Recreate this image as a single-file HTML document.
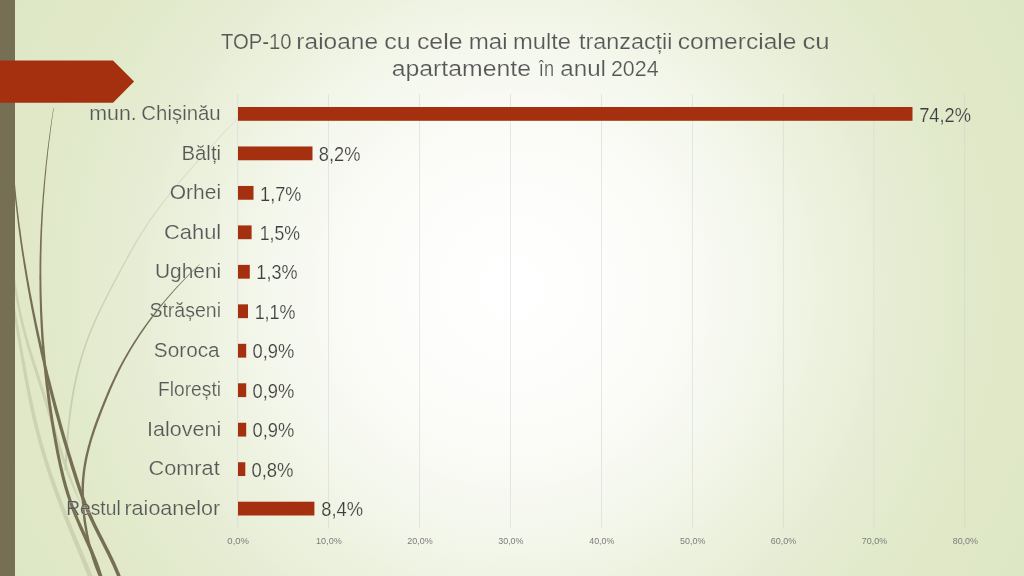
<!DOCTYPE html>
<html lang="ro">
<head>
<meta charset="utf-8">
<title>TOP-10 raioane cu cele mai multe tranzacții comerciale cu apartamente în anul 2024</title>
<style>
html,body{margin:0;padding:0;width:1024px;height:576px;overflow:hidden;background:#DEE7C5}
svg{display:block;position:absolute;left:0;top:0}
text{font-family:"Liberation Sans",sans-serif;white-space:pre}
</style>
</head>
<body>
<svg width="1024" height="576" viewBox="0 0 1024 576">
<defs>
<radialGradient id="bg" gradientUnits="userSpaceOnUse" cx="512" cy="288" r="587.4">
<stop offset="0.0000" stop-color="#FFFFFF"/>
<stop offset="0.1021" stop-color="#FEFEFD"/>
<stop offset="0.1532" stop-color="#FDFEFC"/>
<stop offset="0.2315" stop-color="#FCFDF9"/>
<stop offset="0.2894" stop-color="#FAFBF6"/>
<stop offset="0.3490" stop-color="#F7F9F1"/>
<stop offset="0.3984" stop-color="#F5F8EE"/>
<stop offset="0.4222" stop-color="#F4F7EB"/>
<stop offset="0.4818" stop-color="#F0F4E5"/>
<stop offset="0.5380" stop-color="#EDF2DF"/>
<stop offset="0.5975" stop-color="#E9EFD9"/>
<stop offset="0.6469" stop-color="#E7EDD4"/>
<stop offset="0.7184" stop-color="#E4EBCF"/>
<stop offset="0.7576" stop-color="#E2EACC"/>
<stop offset="0.8444" stop-color="#E0E8C8"/>
<stop offset="1.0000" stop-color="#DEE7C5"/>
</radialGradient>
<linearGradient id="cg" gradientUnits="userSpaceOnUse" x1="0" y1="118" x2="0" y2="470"><stop offset="0" stop-color="#DBE0CA"/><stop offset="0.5" stop-color="#CBD0B6"/><stop offset="1" stop-color="#C8CDB0"/></linearGradient>
</defs>
<rect width="1024" height="576" fill="url(#bg)"/>
<g id="wisps">
<path d="M10.9,299.2 L11.4,302.2 L12.0,305.2 L12.5,308.2 L13.0,311.2 L13.5,314.2 L14.0,317.2 L14.5,320.2 L15.1,323.2 L15.6,326.2 L16.1,329.2 L16.6,332.2 L17.1,335.2 L17.6,338.2 L18.1,341.3 L18.6,344.3 L19.1,347.3 L19.6,350.3 L20.1,353.3 L20.6,356.3 L21.1,359.3 L21.6,362.3 L22.1,365.3 L22.6,368.3 L23.2,371.3 L23.7,374.3 L24.2,377.3 L24.8,380.3 L25.3,383.3 L25.9,386.3 L26.5,389.3 L27.1,392.3 L27.6,395.3 L28.2,398.3 L28.9,401.4 L29.5,404.4 L30.1,407.4 L30.8,410.4 L31.4,413.4 L32.1,416.4 L32.8,419.4 L33.5,422.4 L34.2,425.4 L35.0,428.4 L35.7,431.4 L36.5,434.4 L37.3,437.5 L38.1,440.5 L38.9,443.5 L39.7,446.5 L40.6,449.5 L41.5,452.5 L42.3,455.5 L43.2,458.5 L44.2,461.6 L45.1,464.6 L46.1,467.6 L47.0,470.6 L48.0,473.6 L49.0,476.6 L50.0,479.6 L51.1,482.6 L52.1,485.6 L53.2,488.7 L54.3,491.7 L55.3,494.7 L56.4,497.7 L57.5,500.7 L58.7,503.7 L59.8,506.7 L60.9,509.7 L62.1,512.7 L63.2,515.7 L64.4,518.8 L65.6,521.8 L66.8,524.8 L68.0,527.8 L69.2,530.8 L70.4,533.8 L71.6,536.8 L72.9,539.8 L74.1,542.8 L75.4,545.8 L76.6,548.8 L77.9,551.8 L79.1,554.8 L80.4,557.8 L81.6,560.8 L82.8,563.8 L84.0,566.8 L85.2,569.8 L86.4,572.8 L87.6,575.8 L88.8,578.8 L89.9,581.8 L91.0,584.8 L95.2,583.2 L94.1,580.2 L93.0,577.2 L91.8,574.2 L90.6,571.2 L89.4,568.2 L88.2,565.2 L86.9,562.2 L85.7,559.2 L84.4,556.2 L83.1,553.2 L81.9,550.2 L80.6,547.2 L79.3,544.2 L78.1,541.2 L76.8,538.2 L75.6,535.2 L74.3,532.2 L73.1,529.2 L71.9,526.2 L70.6,523.2 L69.4,520.2 L68.2,517.2 L67.0,514.3 L65.9,511.3 L64.7,508.3 L63.5,505.3 L62.4,502.3 L61.2,499.3 L60.1,496.3 L59.0,493.3 L57.9,490.3 L56.8,487.3 L55.8,484.4 L54.7,481.4 L53.7,478.4 L52.6,475.4 L51.6,472.4 L50.6,469.4 L49.6,466.4 L48.7,463.4 L47.7,460.4 L46.8,457.5 L45.9,454.5 L45.0,451.5 L44.1,448.5 L43.2,445.5 L42.4,442.5 L41.5,439.5 L40.7,436.5 L39.9,433.6 L39.2,430.6 L38.4,427.6 L37.7,424.6 L36.9,421.6 L36.2,418.6 L35.5,415.6 L34.9,412.6 L34.2,409.6 L33.5,406.6 L32.9,403.6 L32.3,400.6 L31.6,397.7 L31.0,394.7 L30.4,391.7 L29.8,388.7 L29.2,385.7 L28.6,382.7 L28.1,379.7 L27.5,376.7 L26.9,373.7 L26.4,370.7 L25.8,367.7 L25.3,364.7 L24.7,361.7 L24.2,358.7 L23.7,355.7 L23.1,352.7 L22.6,349.7 L22.0,346.7 L21.5,343.7 L21.0,340.7 L20.4,337.8 L19.9,334.8 L19.4,331.8 L18.8,328.8 L18.3,325.8 L17.7,322.8 L17.2,319.8 L16.6,316.8 L16.1,313.8 L15.5,310.8 L14.9,307.8 L14.3,304.8 L13.7,301.8 L13.1,298.8Z" fill="#CDD2B1"/>
<path d="M11.3,265.1 L11.6,268.1 L11.9,271.1 L12.3,274.1 L12.7,277.1 L13.1,280.2 L13.5,283.2 L13.9,286.2 L14.4,289.2 L14.9,292.2 L15.4,295.2 L15.9,298.2 L16.4,301.2 L17.0,304.2 L17.6,307.2 L18.2,310.3 L18.8,313.3 L19.5,316.3 L20.1,319.3 L20.8,322.3 L21.5,325.3 L22.3,328.3 L23.0,331.3 L23.8,334.3 L24.6,337.3 L25.4,340.4 L26.2,343.4 L27.1,346.4 L28.0,349.4 L28.9,352.4 L29.8,355.4 L30.7,358.4 L31.7,361.4 L32.6,364.4 L33.6,367.4 L34.5,370.4 L35.5,373.4 L36.4,376.4 L37.4,379.4 L38.3,382.4 L39.3,385.4 L40.2,388.4 L41.2,391.4 L42.1,394.4 L43.1,397.4 L44.0,400.4 L44.9,403.4 L45.8,406.4 L46.7,409.4 L47.6,412.4 L48.5,415.4 L49.4,418.4 L50.3,421.4 L51.2,424.4 L52.1,427.4 L52.9,430.4 L53.8,433.4 L54.7,436.4 L55.6,439.4 L56.5,442.4 L57.5,445.4 L58.4,448.4 L59.4,451.4 L60.3,454.4 L61.3,457.4 L62.3,460.4 L63.4,463.4 L64.4,466.4 L65.5,469.4 L66.6,472.4 L67.7,475.5 L68.9,478.4 L70.1,481.4 L71.4,484.4 L72.7,487.4 L74.0,490.3 L75.4,493.3 L76.9,496.2 L78.4,499.2 L80.0,502.1 L80.3,501.9 L79.1,498.8 L77.9,495.8 L76.8,492.7 L75.6,489.7 L74.4,486.6 L73.3,483.6 L72.2,480.6 L71.2,477.6 L70.1,474.5 L69.0,471.6 L68.0,468.6 L67.0,465.6 L66.0,462.6 L65.0,459.6 L64.0,456.6 L63.1,453.6 L62.1,450.6 L61.2,447.6 L60.3,444.6 L59.4,441.6 L58.5,438.6 L57.6,435.6 L56.7,432.6 L55.8,429.6 L54.9,426.6 L54.0,423.6 L53.2,420.6 L52.3,417.6 L51.4,414.6 L50.5,411.6 L49.6,408.6 L48.7,405.6 L47.8,402.6 L46.8,399.6 L45.9,396.6 L45.0,393.6 L44.0,390.6 L43.1,387.6 L42.1,384.6 L41.1,381.6 L40.2,378.6 L39.2,375.6 L38.2,372.6 L37.3,369.6 L36.3,366.6 L35.3,363.6 L34.4,360.6 L33.4,357.6 L32.5,354.6 L31.5,351.6 L30.6,348.6 L29.7,345.6 L28.8,342.6 L28.0,339.6 L27.1,336.7 L26.3,333.7 L25.5,330.7 L24.8,327.7 L24.0,324.7 L23.3,321.7 L22.6,318.7 L21.9,315.7 L21.2,312.7 L20.6,309.7 L20.0,306.8 L19.4,303.8 L18.8,300.8 L18.2,297.8 L17.7,294.8 L17.1,291.8 L16.6,288.8 L16.1,285.8 L15.7,282.8 L15.2,279.8 L14.8,276.9 L14.4,273.9 L14.0,270.9 L13.6,267.9 L13.2,264.9Z" fill="#CDD2B1"/>
<path d="M237.7,117.8 L234.8,120.8 L231.9,123.8 L229.1,126.8 L226.2,129.7 L223.4,132.7 L220.5,135.7 L217.7,138.7 L214.9,141.7 L212.1,144.7 L209.4,147.7 L206.6,150.7 L203.9,153.7 L201.1,156.7 L198.4,159.7 L195.7,162.7 L193.1,165.7 L190.4,168.7 L187.8,171.7 L185.2,174.7 L182.6,177.7 L180.1,180.7 L177.6,183.7 L175.1,186.7 L172.6,189.7 L170.2,192.7 L167.7,195.7 L165.4,198.7 L163.0,201.7 L160.7,204.7 L158.5,207.7 L156.3,210.7 L154.1,213.7 L151.9,216.7 L149.8,219.7 L147.8,222.7 L145.7,225.7 L143.7,228.7 L141.8,231.7 L139.9,234.7 L138.1,237.7 L136.3,240.7 L134.5,243.7 L132.8,246.7 L131.1,249.7 L129.4,252.7 L127.7,255.7 L126.1,258.7 L124.5,261.7 L122.9,264.7 L121.3,267.7 L119.6,270.7 L118.0,273.7 L116.4,276.7 L114.8,279.7 L113.2,282.7 L111.6,285.7 L110.1,288.7 L108.5,291.7 L106.9,294.7 L105.4,297.7 L103.9,300.7 L102.4,303.7 L100.9,306.7 L99.5,309.7 L98.0,312.7 L96.6,315.7 L95.2,318.7 L93.9,321.7 L92.6,324.7 L91.3,327.7 L90.1,330.7 L88.9,333.7 L87.7,336.7 L86.6,339.7 L85.5,342.7 L84.4,345.7 L83.4,348.8 L82.4,351.8 L81.5,354.8 L80.6,357.8 L79.7,360.8 L78.8,363.8 L78.0,366.8 L77.3,369.8 L76.5,372.8 L75.8,375.8 L75.1,378.8 L74.5,381.8 L73.8,384.8 L73.2,387.8 L72.7,390.8 L72.1,393.8 L71.6,396.9 L71.1,399.9 L70.6,402.9 L70.2,405.9 L69.8,408.9 L69.3,411.9 L69.0,414.9 L68.6,417.9 L68.2,420.9 L67.9,423.9 L67.6,426.9 L67.3,429.9 L67.0,432.9 L66.7,435.9 L66.5,438.9 L66.2,441.9 L66.0,444.9 L65.8,447.9 L65.6,450.9 L65.4,453.9 L65.2,456.9 L65.0,459.9 L64.8,462.9 L64.7,465.9 L64.5,468.9 L64.5,470.0 L66.4,470.0 L66.4,469.1 L66.6,466.1 L66.7,463.1 L66.9,460.1 L67.1,457.1 L67.3,454.1 L67.5,451.1 L67.7,448.1 L67.9,445.1 L68.1,442.1 L68.4,439.1 L68.6,436.1 L68.9,433.1 L69.1,430.1 L69.4,427.1 L69.7,424.1 L70.1,421.1 L70.4,418.1 L70.8,415.1 L71.1,412.1 L71.5,409.1 L72.0,406.1 L72.4,403.1 L72.9,400.1 L73.4,397.1 L73.9,394.2 L74.4,391.2 L75.0,388.2 L75.5,385.2 L76.2,382.2 L76.8,379.2 L77.5,376.2 L78.2,373.2 L78.9,370.2 L79.7,367.2 L80.4,364.2 L81.3,361.2 L82.1,358.2 L83.0,355.2 L83.9,352.2 L84.9,349.2 L85.9,346.3 L86.9,343.3 L88.0,340.3 L89.1,337.3 L90.3,334.3 L91.5,331.3 L92.7,328.3 L94.0,325.3 L95.3,322.3 L96.6,319.3 L98.0,316.3 L99.3,313.3 L100.8,310.3 L102.2,307.3 L103.7,304.3 L105.2,301.3 L106.7,298.3 L108.2,295.3 L109.7,292.3 L111.3,289.3 L112.9,286.3 L114.4,283.3 L116.0,280.3 L117.6,277.3 L119.2,274.3 L120.8,271.3 L122.4,268.3 L124.0,265.3 L125.6,262.3 L127.2,259.3 L128.9,256.3 L130.5,253.3 L132.2,250.3 L133.9,247.3 L135.6,244.3 L137.3,241.3 L139.1,238.3 L140.9,235.3 L142.8,232.3 L144.7,229.3 L146.7,226.3 L148.7,223.3 L150.7,220.3 L152.8,217.3 L155.0,214.3 L157.2,211.3 L159.4,208.3 L161.6,205.3 L163.9,202.3 L166.2,199.3 L168.6,196.3 L171.0,193.3 L173.4,190.3 L175.9,187.3 L178.3,184.3 L180.8,181.3 L183.4,178.3 L186.0,175.3 L188.6,172.3 L191.2,169.3 L193.8,166.3 L196.5,163.3 L199.2,160.3 L201.9,157.3 L204.6,154.3 L207.3,151.3 L210.1,148.3 L212.8,145.3 L215.6,142.3 L218.4,139.3 L221.2,136.3 L224.0,133.3 L226.8,130.3 L229.6,127.2 L232.4,124.2 L235.2,121.2 L238.1,118.2Z" fill="url(#cg)"/>
<path d="M53.4,108.0 L52.9,111.0 L52.4,114.0 L52.0,117.0 L51.5,120.0 L51.1,123.0 L50.6,126.0 L50.2,129.0 L49.8,132.0 L49.4,134.9 L49.0,137.9 L48.6,140.9 L48.2,143.9 L47.8,146.9 L47.4,149.9 L47.1,152.9 L46.7,155.9 L46.4,158.9 L46.0,161.9 L45.7,164.9 L45.4,167.9 L45.1,170.9 L44.8,173.9 L44.5,176.9 L44.2,179.9 L43.9,182.9 L43.6,185.9 L43.4,188.9 L43.1,191.9 L42.8,195.0 L42.6,198.0 L42.4,201.0 L42.2,204.0 L41.9,207.0 L41.7,210.0 L41.5,213.0 L41.3,216.0 L41.2,219.0 L41.0,222.0 L40.8,225.0 L40.7,228.0 L40.5,231.0 L40.4,234.0 L40.3,237.0 L40.1,240.0 L40.0,243.0 L39.9,246.0 L39.9,249.0 L39.8,252.0 L39.7,255.0 L39.6,258.0 L39.6,261.0 L39.5,264.0 L39.5,267.0 L39.5,270.0 L39.5,273.0 L39.4,276.0 L39.4,279.0 L39.5,282.0 L39.5,285.0 L39.5,288.0 L39.5,291.0 L39.6,294.0 L39.6,297.0 L39.7,300.0 L39.8,303.0 L39.9,306.0 L39.9,309.0 L40.0,312.0 L40.2,315.0 L40.3,318.1 L40.4,321.1 L40.6,324.1 L40.7,327.1 L40.9,330.1 L41.0,333.1 L41.2,336.1 L41.4,339.1 L41.6,342.1 L41.8,345.1 L42.0,348.1 L42.3,351.1 L42.5,354.1 L42.8,357.1 L43.0,360.1 L43.3,363.1 L43.6,366.1 L43.9,369.1 L44.2,372.1 L44.5,375.1 L44.9,378.2 L45.2,381.2 L45.5,384.2 L45.9,387.2 L46.3,390.2 L46.7,393.2 L47.0,396.2 L47.4,399.2 L47.8,402.2 L48.3,405.2 L48.7,408.2 L49.1,411.2 L49.6,414.2 L50.1,417.2 L50.5,420.2 L51.0,423.2 L51.5,426.2 L52.0,429.2 L52.5,432.3 L53.0,435.3 L53.6,438.3 L54.1,441.3 L54.6,444.3 L55.2,447.3 L55.7,450.3 L56.3,453.3 L56.9,456.3 L57.5,459.3 L58.2,462.3 L58.8,465.3 L59.5,468.3 L60.2,471.4 L60.9,474.4 L61.6,477.4 L62.4,480.4 L63.2,483.4 L64.0,486.4 L64.9,489.4 L65.8,492.5 L66.7,495.5 L67.7,498.5 L68.7,501.5 L69.8,504.5 L70.9,507.6 L72.0,510.6 L73.2,513.6 L74.4,516.6 L75.7,519.6 L77.0,522.6 L78.3,525.7 L79.6,528.7 L81.0,531.7 L82.3,534.7 L83.7,537.7 L85.0,540.7 L86.4,543.7 L87.7,546.7 L89.0,549.7 L90.3,552.7 L91.5,555.6 L92.7,558.6 L93.9,561.6 L95.0,564.6 L96.0,567.6 L97.1,570.5 L98.1,573.5 L99.0,576.5 L100.0,579.5 L101.0,582.5 L101.6,584.5 L104.9,583.5 L104.2,581.5 L103.2,578.5 L102.3,575.5 L101.3,572.5 L100.3,569.5 L99.3,566.4 L98.2,563.4 L97.1,560.4 L95.9,557.4 L94.6,554.4 L93.4,551.3 L92.1,548.3 L90.8,545.3 L89.4,542.3 L88.1,539.3 L86.7,536.3 L85.3,533.3 L83.9,530.3 L82.6,527.3 L81.2,524.3 L79.9,521.4 L78.6,518.4 L77.4,515.4 L76.1,512.4 L75.0,509.4 L73.8,506.4 L72.8,503.5 L71.7,500.5 L70.7,497.5 L69.7,494.5 L68.8,491.5 L67.9,488.6 L67.0,485.6 L66.2,482.6 L65.4,479.6 L64.6,476.6 L63.9,473.6 L63.2,470.6 L62.5,467.7 L61.8,464.7 L61.1,461.7 L60.5,458.7 L59.9,455.7 L59.3,452.7 L58.7,449.7 L58.1,446.7 L57.6,443.7 L57.0,440.7 L56.5,437.7 L56.0,434.7 L55.4,431.7 L54.9,428.8 L54.4,425.8 L53.9,422.8 L53.4,419.8 L53.0,416.8 L52.5,413.8 L52.0,410.8 L51.6,407.8 L51.1,404.8 L50.7,401.8 L50.3,398.8 L49.9,395.8 L49.5,392.8 L49.1,389.8 L48.7,386.8 L48.3,383.8 L47.9,380.8 L47.6,377.8 L47.2,374.9 L46.9,371.9 L46.6,368.9 L46.2,365.9 L45.9,362.9 L45.6,359.9 L45.4,356.9 L45.1,353.9 L44.8,350.9 L44.6,347.9 L44.3,344.9 L44.1,341.9 L43.8,338.9 L43.6,335.9 L43.4,332.9 L43.2,329.9 L43.0,326.9 L42.9,323.9 L42.7,320.9 L42.5,317.9 L42.4,315.0 L42.2,312.0 L42.1,309.0 L42.0,306.0 L41.9,303.0 L41.8,300.0 L41.7,297.0 L41.6,294.0 L41.5,291.0 L41.5,288.0 L41.4,285.0 L41.4,282.0 L41.4,279.0 L41.3,276.0 L41.3,273.0 L41.3,270.0 L41.3,267.0 L41.3,264.0 L41.4,261.0 L41.4,258.0 L41.4,255.0 L41.5,252.0 L41.6,249.0 L41.6,246.0 L41.7,243.0 L41.8,240.0 L41.9,237.0 L42.0,234.0 L42.1,231.0 L42.2,228.0 L42.4,225.0 L42.5,222.0 L42.7,219.0 L42.8,216.0 L43.0,213.0 L43.1,210.0 L43.3,207.0 L43.5,204.0 L43.7,201.0 L43.9,198.0 L44.1,195.0 L44.4,192.1 L44.6,189.1 L44.8,186.1 L45.1,183.1 L45.3,180.1 L45.6,177.1 L45.9,174.1 L46.2,171.1 L46.4,168.1 L46.7,165.1 L47.0,162.1 L47.4,159.1 L47.7,156.1 L48.0,153.1 L48.3,150.1 L48.7,147.1 L49.0,144.1 L49.4,141.1 L49.8,138.1 L50.2,135.1 L50.5,132.0 L50.9,129.0 L51.3,126.0 L51.7,123.0 L52.1,120.0 L52.5,117.0 L52.9,114.0 L53.4,111.0 L53.8,108.0Z" fill="#766F54"/>
<path d="M11.7,160.0 L11.9,163.0 L12.1,166.0 L12.3,169.1 L12.6,172.1 L12.8,175.1 L13.1,178.1 L13.3,181.1 L13.6,184.1 L13.9,187.1 L14.2,190.1 L14.5,193.1 L14.8,196.1 L15.1,199.1 L15.4,202.1 L15.7,205.1 L16.1,208.1 L16.4,211.1 L16.8,214.1 L17.1,217.1 L17.5,220.1 L17.8,223.1 L18.2,226.1 L18.6,229.1 L19.0,232.1 L19.4,235.1 L19.8,238.1 L20.2,241.1 L20.6,244.1 L21.1,247.1 L21.5,250.1 L21.9,253.1 L22.4,256.1 L22.9,259.1 L23.3,262.1 L23.8,265.2 L24.3,268.2 L24.8,271.2 L25.3,274.2 L25.8,277.2 L26.3,280.2 L26.8,283.2 L27.3,286.2 L27.8,289.2 L28.4,292.2 L28.9,295.2 L29.4,298.2 L30.0,301.2 L30.6,304.2 L31.1,307.2 L31.7,310.2 L32.3,313.2 L32.9,316.2 L33.5,319.2 L34.1,322.2 L34.7,325.2 L35.3,328.3 L35.9,331.3 L36.5,334.3 L37.2,337.3 L37.8,340.3 L38.5,343.3 L39.1,346.3 L39.8,349.3 L40.4,352.3 L41.1,355.3 L41.8,358.3 L42.5,361.3 L43.2,364.3 L43.9,367.3 L44.6,370.3 L45.3,373.3 L46.0,376.3 L46.7,379.4 L47.5,382.4 L48.2,385.4 L48.9,388.4 L49.7,391.4 L50.4,394.4 L51.2,397.4 L52.0,400.4 L52.8,403.4 L53.5,406.4 L54.3,409.4 L55.1,412.4 L55.9,415.4 L56.8,418.4 L57.6,421.4 L58.4,424.4 L59.2,427.4 L60.1,430.4 L60.9,433.4 L61.8,436.5 L62.6,439.5 L63.5,442.5 L64.4,445.5 L65.3,448.5 L66.2,451.5 L67.1,454.5 L68.0,457.5 L68.9,460.5 L69.8,463.5 L70.7,466.5 L71.6,469.5 L72.6,472.5 L73.5,475.5 L74.5,478.5 L75.4,481.5 L76.4,484.5 L77.4,487.5 L78.4,490.6 L79.5,493.6 L80.5,496.6 L81.6,499.6 L82.8,502.6 L84.0,505.6 L85.2,508.6 L86.4,511.7 L87.7,514.7 L89.1,517.7 L90.5,520.7 L91.9,523.7 L93.3,526.8 L94.8,529.8 L96.3,532.8 L97.8,535.8 L99.3,538.8 L100.9,541.8 L102.4,544.8 L103.9,547.8 L105.4,550.8 L106.9,553.8 L108.4,556.8 L109.8,559.8 L111.2,562.7 L112.6,565.7 L113.9,568.7 L115.2,571.7 L116.5,574.7 L117.6,577.6 L118.7,580.6 L119.8,583.6 L120.1,584.6 L123.4,583.4 L123.1,582.4 L122.0,579.4 L120.9,576.4 L119.7,573.3 L118.4,570.3 L117.1,567.3 L115.8,564.3 L114.4,561.3 L113.0,558.2 L111.5,555.2 L110.1,552.2 L108.6,549.2 L107.0,546.2 L105.5,543.2 L104.0,540.2 L102.5,537.2 L100.9,534.2 L99.4,531.2 L97.9,528.2 L96.4,525.2 L95.0,522.3 L93.6,519.3 L92.2,516.3 L90.9,513.3 L89.6,510.3 L88.3,507.4 L87.1,504.4 L86.0,501.4 L84.8,498.4 L83.7,495.4 L82.7,492.4 L81.6,489.4 L80.6,486.5 L79.6,483.5 L78.7,480.5 L77.7,477.5 L76.8,474.5 L75.8,471.5 L74.9,468.5 L73.9,465.5 L73.0,462.5 L72.1,459.5 L71.2,456.5 L70.2,453.5 L69.3,450.5 L68.5,447.5 L67.6,444.5 L66.7,441.5 L65.8,438.5 L64.9,435.5 L64.1,432.6 L63.2,429.6 L62.4,426.6 L61.5,423.6 L60.7,420.6 L59.9,417.6 L59.1,414.6 L58.2,411.6 L57.4,408.6 L56.6,405.6 L55.8,402.6 L55.0,399.6 L54.2,396.6 L53.4,393.6 L52.7,390.6 L51.9,387.6 L51.1,384.6 L50.4,381.6 L49.6,378.6 L48.8,375.7 L48.1,372.7 L47.4,369.7 L46.6,366.7 L45.9,363.7 L45.2,360.7 L44.5,357.7 L43.8,354.7 L43.1,351.7 L42.4,348.7 L41.7,345.7 L41.0,342.7 L40.3,339.7 L39.6,336.7 L39.0,333.7 L38.3,330.7 L37.7,327.7 L37.0,324.8 L36.4,321.8 L35.8,318.8 L35.2,315.8 L34.5,312.8 L33.9,309.8 L33.3,306.8 L32.7,303.8 L32.2,300.8 L31.6,297.8 L31.0,294.8 L30.4,291.8 L29.9,288.8 L29.3,285.8 L28.8,282.8 L28.2,279.8 L27.7,276.8 L27.2,273.8 L26.7,270.8 L26.2,267.8 L25.7,264.8 L25.2,261.9 L24.7,258.9 L24.2,255.9 L23.7,252.9 L23.3,249.9 L22.8,246.9 L22.4,243.9 L21.9,240.9 L21.5,237.9 L21.1,234.9 L20.7,231.9 L20.3,228.9 L19.8,225.9 L19.4,222.9 L19.0,219.9 L18.7,216.9 L18.3,213.9 L17.9,210.9 L17.6,207.9 L17.2,204.9 L16.9,201.9 L16.5,198.9 L16.2,195.9 L15.9,192.9 L15.6,189.9 L15.3,186.9 L15.0,183.9 L14.7,180.9 L14.4,177.9 L14.1,174.9 L13.9,171.9 L13.6,168.9 L13.3,166.0 L13.1,163.0 L12.9,160.0Z" fill="#766F54"/>
<path d="M199.8,263.9 L196.6,266.8 L193.5,269.8 L190.4,272.8 L187.4,275.8 L184.5,278.8 L181.6,281.7 L178.7,284.7 L175.9,287.7 L173.2,290.7 L170.5,293.7 L167.9,296.7 L165.3,299.7 L162.8,302.7 L160.3,305.6 L157.9,308.6 L155.5,311.6 L153.2,314.6 L150.9,317.6 L148.7,320.6 L146.5,323.6 L144.3,326.6 L142.2,329.6 L140.1,332.6 L138.1,335.6 L136.1,338.6 L134.1,341.6 L132.2,344.6 L130.4,347.6 L128.6,350.6 L126.8,353.6 L125.1,356.6 L123.4,359.6 L121.7,362.6 L120.1,365.6 L118.5,368.6 L117.0,371.6 L115.5,374.6 L114.1,377.6 L112.7,380.6 L111.3,383.6 L109.9,386.6 L108.6,389.6 L107.3,392.6 L106.1,395.6 L104.8,398.6 L103.6,401.6 L102.4,404.6 L101.2,407.6 L100.0,410.6 L98.8,413.6 L97.7,416.6 L96.5,419.6 L95.4,422.6 L94.3,425.6 L93.3,428.6 L92.3,431.6 L91.3,434.7 L90.3,437.7 L89.4,440.7 L88.6,443.7 L87.7,446.7 L87.0,449.7 L86.2,452.7 L85.5,455.8 L84.9,458.8 L84.3,461.8 L83.8,464.8 L83.3,467.8 L82.9,470.8 L82.5,473.9 L82.2,476.9 L81.9,479.9 L81.7,482.9 L81.6,486.0 L81.5,489.0 L81.5,492.0 L81.5,495.0 L81.6,498.0 L81.7,501.1 L81.9,504.1 L82.1,507.1 L82.3,510.1 L82.6,513.1 L83.0,516.1 L83.3,519.2 L83.7,522.2 L84.2,525.2 L84.7,528.2 L85.2,531.2 L85.8,534.2 L86.4,537.2 L87.1,540.3 L87.8,543.3 L88.5,546.3 L89.3,549.3 L90.2,552.3 L91.0,555.3 L92.0,558.4 L93.0,561.4 L94.0,564.4 L95.1,567.4 L96.3,570.4 L97.5,573.5 L98.8,576.5 L101.0,575.5 L99.7,572.5 L98.5,569.6 L97.4,566.6 L96.3,563.6 L95.3,560.6 L94.3,557.6 L93.3,554.7 L92.5,551.7 L91.6,548.7 L90.8,545.7 L90.1,542.7 L89.4,539.7 L88.8,536.8 L88.1,533.8 L87.6,530.8 L87.1,527.8 L86.6,524.8 L86.1,521.8 L85.7,518.8 L85.3,515.9 L85.0,512.9 L84.7,509.9 L84.5,506.9 L84.3,503.9 L84.1,500.9 L84.0,498.0 L83.9,495.0 L83.9,492.0 L83.9,489.0 L84.0,486.0 L84.1,483.1 L84.3,480.1 L84.6,477.1 L84.9,474.1 L85.2,471.2 L85.6,468.2 L86.1,465.2 L86.6,462.2 L87.2,459.2 L87.8,456.2 L88.5,453.3 L89.2,450.3 L90.0,447.3 L90.8,444.3 L91.6,441.3 L92.5,438.3 L93.5,435.3 L94.4,432.4 L95.4,429.4 L96.5,426.4 L97.5,423.4 L98.6,420.4 L99.8,417.4 L100.9,414.4 L102.0,411.4 L103.2,408.4 L104.4,405.4 L105.6,402.4 L106.8,399.4 L108.0,396.4 L109.3,393.4 L110.5,390.4 L111.8,387.4 L113.1,384.4 L114.5,381.4 L115.8,378.4 L117.3,375.4 L118.7,372.4 L120.2,369.4 L121.7,366.4 L123.3,363.4 L124.9,360.4 L126.6,357.4 L128.3,354.4 L130.0,351.4 L131.8,348.4 L133.6,345.4 L135.5,342.4 L137.4,339.4 L139.3,336.4 L141.3,333.4 L143.4,330.4 L145.4,327.4 L147.5,324.4 L149.7,321.4 L151.9,318.4 L154.2,315.4 L156.5,312.4 L158.8,309.4 L161.2,306.4 L163.6,303.3 L166.1,300.3 L168.7,297.3 L171.3,294.3 L173.9,291.3 L176.6,288.3 L179.3,285.3 L182.1,282.3 L185.0,279.2 L187.9,276.2 L190.8,273.2 L193.8,270.2 L196.9,267.2 L200.1,264.1Z" fill="#766F54"/>
</g>
<rect x="0" y="0" width="15" height="576" fill="#766F54"/>
<path d="M0,60.4 H113 L134.1,81.5 L113,102.7 H0 Z" fill="#A53010"/>
<g id="grid"><rect x="237.2" y="94" width="1" height="434.5" fill="#D2D2D2" fill-opacity="0.5"/><rect x="328" y="94" width="1" height="434.5" fill="#D2D2D2" fill-opacity="0.5"/><rect x="419" y="94" width="1" height="434.5" fill="#D2D2D2" fill-opacity="0.5"/><rect x="510" y="94" width="1" height="434.5" fill="#D2D2D2" fill-opacity="0.5"/><rect x="601" y="94" width="1" height="434.5" fill="#D2D2D2" fill-opacity="0.5"/><rect x="692" y="94" width="1" height="434.5" fill="#D2D2D2" fill-opacity="0.5"/><rect x="782.9" y="94" width="1" height="434.5" fill="#D2D2D2" fill-opacity="0.5"/><rect x="873.4" y="94" width="1" height="434.5" fill="#D2D2D2" fill-opacity="0.5"/><rect x="964.2" y="94" width="1" height="434.5" fill="#D2D2D2" fill-opacity="0.5"/></g>
<g id="bars"><rect x="238.0" y="107.00" width="674.5" height="13.8" fill="#A53010"/><rect x="238.0" y="146.47" width="74.5" height="13.8" fill="#A53010"/><rect x="238.0" y="185.94" width="15.5" height="13.8" fill="#A53010"/><rect x="238.0" y="225.41" width="13.6" height="13.8" fill="#A53010"/><rect x="238.0" y="264.88" width="11.8" height="13.8" fill="#A53010"/><rect x="238.0" y="304.35" width="10.0" height="13.8" fill="#A53010"/><rect x="238.0" y="343.82" width="8.2" height="13.8" fill="#A53010"/><rect x="238.0" y="383.29" width="8.2" height="13.8" fill="#A53010"/><rect x="238.0" y="422.76" width="8.2" height="13.8" fill="#A53010"/><rect x="238.0" y="462.23" width="7.3" height="13.8" fill="#A53010"/><rect x="238.0" y="501.70" width="76.4" height="13.8" fill="#A53010"/></g>
<g id="title"><text transform="translate(220.93 49.00) scale(0.9210 1)" font-size="22.0" fill="#575757" stroke="#E9EFD8" stroke-width="0.2">TOP-10 </text>
<text transform="translate(296.37 49.00) scale(1.1135 1)" font-size="22.0" fill="#575757" stroke="#EEF3E1" stroke-width="0.2">raioane </text>
<text transform="translate(384.22 49.00) scale(1.1378 1)" font-size="22.0" fill="#575757" stroke="#F1F5E7" stroke-width="0.2">cu </text>
<text transform="translate(416.97 49.00) scale(1.1282 1)" font-size="22.0" fill="#575757" stroke="#F3F6EA" stroke-width="0.2">cele </text>
<text transform="translate(468.74 49.00) scale(1.0958 1)" font-size="22.0" fill="#575757" stroke="#F4F7EB" stroke-width="0.2">mai </text>
<text transform="translate(513.02 49.00) scale(1.0790 1)" font-size="22.0" fill="#575757" stroke="#F4F7EB" stroke-width="0.2">multe </text>
<text transform="translate(578.90 49.00) scale(1.0637 1)" font-size="22.0" fill="#575757" stroke="#F1F5E7" stroke-width="0.2">tranzacții </text>
<text transform="translate(677.73 49.00) scale(1.1165 1)" font-size="22.0" fill="#575757" stroke="#EBF0DC" stroke-width="0.2">comerciale </text>
<text transform="translate(802.44 49.00) scale(1.1730 1)" font-size="22.0" fill="#575757" stroke="#E6EDD3" stroke-width="0.2">cu</text>
<text transform="translate(391.72 75.90) scale(1.1284 1)" font-size="22.0" fill="#575757" stroke="#F6F8EF" stroke-width="0.2">apartamente </text>
<text transform="translate(538.82 75.90) scale(0.8287 1)" font-size="22.0" fill="#575757" stroke="#F6F8EF" stroke-width="0.2">în </text>
<text transform="translate(560.24 75.90) scale(1.1000 1)" font-size="22.0" fill="#575757" stroke="#F5F8EE" stroke-width="0.2">anul </text>
<text transform="translate(610.89 75.90) scale(0.9755 1)" font-size="22.0" fill="#575757" stroke="#F3F7EB" stroke-width="0.2">2024</text></g>
<g id="cats"><text transform="translate(89.26 120.10) scale(1.0917 1)" font-size="19.6" fill="#575757" stroke="#E3EACD" stroke-width="0.2">mun. </text>
<text transform="translate(141.34 120.10) scale(1.0411 1)" font-size="19.6" fill="#575757" stroke="#E7EED5" stroke-width="0.2">Chișinău</text>
<text transform="translate(181.40 159.57) scale(1.0423 1)" font-size="19.6" fill="#575757" stroke="#EAF0DB" stroke-width="0.2">Bălți</text>
<text transform="translate(169.76 199.04) scale(1.0729 1)" font-size="19.6" fill="#575757" stroke="#EBF1DC" stroke-width="0.2">Orhei</text>
<text transform="translate(163.97 238.51) scale(1.1184 1)" font-size="19.6" fill="#575757" stroke="#ECF1DD" stroke-width="0.2">Cahul</text>
<text transform="translate(154.94 277.98) scale(1.0664 1)" font-size="19.6" fill="#575757" stroke="#ECF1DD" stroke-width="0.2">Ugheni</text>
<text transform="translate(149.39 317.45) scale(0.9972 1)" font-size="19.6" fill="#575757" stroke="#EBF1DD" stroke-width="0.2">Strășeni</text>
<text transform="translate(153.85 356.92) scale(1.0598 1)" font-size="19.6" fill="#575757" stroke="#EBF1DC" stroke-width="0.2">Soroca</text>
<text transform="translate(158.00 396.39) scale(0.9816 1)" font-size="19.6" fill="#575757" stroke="#EAF0DB" stroke-width="0.2">Florești</text>
<text transform="translate(147.07 435.86) scale(1.0976 1)" font-size="19.6" fill="#575757" stroke="#E9EFD8" stroke-width="0.2">Ialoveni</text>
<text transform="translate(148.48 475.33) scale(1.1088 1)" font-size="19.6" fill="#575757" stroke="#E7EED5" stroke-width="0.2">Comrat</text>
<text transform="translate(66.25 514.80) scale(0.9795 1)" font-size="19.6" fill="#575757" stroke="#E1E9CA" stroke-width="0.2">Restul </text>
<text transform="translate(124.45 514.80) scale(1.0996 1)" font-size="19.6" fill="#575757" stroke="#E5ECD1" stroke-width="0.2">raioanelor</text></g>
<g id="labels"><text transform="translate(919.14 121.60) scale(0.9080 1)" font-size="20.2" fill="#3E3E3E" stroke="#E1E9CA" stroke-width="0.2">74,2%</text>
<text transform="translate(318.83 161.07) scale(0.9061 1)" font-size="20.2" fill="#3E3E3E" stroke="#F6F9EF" stroke-width="0.2">8,2%</text>
<text transform="translate(260.12 200.54) scale(0.8941 1)" font-size="20.2" fill="#3E3E3E" stroke="#F4F7EB" stroke-width="0.2">1,7%</text>
<text transform="translate(259.64 240.01) scale(0.8771 1)" font-size="20.2" fill="#3E3E3E" stroke="#F5F8ED" stroke-width="0.2">1,5%</text>
<text transform="translate(256.37 279.48) scale(0.8941 1)" font-size="20.2" fill="#3E3E3E" stroke="#F5F8ED" stroke-width="0.2">1,3%</text>
<text transform="translate(254.63 318.95) scale(0.8885 1)" font-size="20.2" fill="#3E3E3E" stroke="#F5F8ED" stroke-width="0.2">1,1%</text>
<text transform="translate(252.43 358.42) scale(0.9094 1)" font-size="20.2" fill="#3E3E3E" stroke="#F4F7EB" stroke-width="0.2">0,9%</text>
<text transform="translate(252.43 397.89) scale(0.9094 1)" font-size="20.2" fill="#3E3E3E" stroke="#F3F6E9" stroke-width="0.2">0,9%</text>
<text transform="translate(252.43 437.36) scale(0.9094 1)" font-size="20.2" fill="#3E3E3E" stroke="#F1F5E6" stroke-width="0.2">0,9%</text>
<text transform="translate(251.42 476.83) scale(0.9150 1)" font-size="20.2" fill="#3E3E3E" stroke="#EEF3E1" stroke-width="0.2">0,8%</text>
<text transform="translate(321.18 516.30) scale(0.9094 1)" font-size="20.2" fill="#3E3E3E" stroke="#F1F5E6" stroke-width="0.2">8,4%</text></g>
<g id="axis"><text transform="translate(227.35 543.80) scale(1.0112 1)" font-size="9.4" fill="#7C7C7C">0,0%</text>
<text transform="translate(316.08 543.80) scale(0.9631 1)" font-size="9.4" fill="#7C7C7C">10,0%</text>
<text transform="translate(407.22 543.80) scale(0.9538 1)" font-size="9.4" fill="#7C7C7C">20,0%</text>
<text transform="translate(498.22 543.80) scale(0.9502 1)" font-size="9.4" fill="#7C7C7C">30,0%</text>
<text transform="translate(589.26 543.80) scale(0.9447 1)" font-size="9.4" fill="#7C7C7C">40,0%</text>
<text transform="translate(680.02 543.80) scale(0.9502 1)" font-size="9.4" fill="#7C7C7C">50,0%</text>
<text transform="translate(770.82 543.80) scale(0.9538 1)" font-size="9.4" fill="#7C7C7C">60,0%</text>
<text transform="translate(861.72 543.80) scale(0.9538 1)" font-size="9.4" fill="#7C7C7C">70,0%</text>
<text transform="translate(952.67 543.80) scale(0.9520 1)" font-size="9.4" fill="#7C7C7C">80,0%</text></g>
</svg>
</body>
</html>
